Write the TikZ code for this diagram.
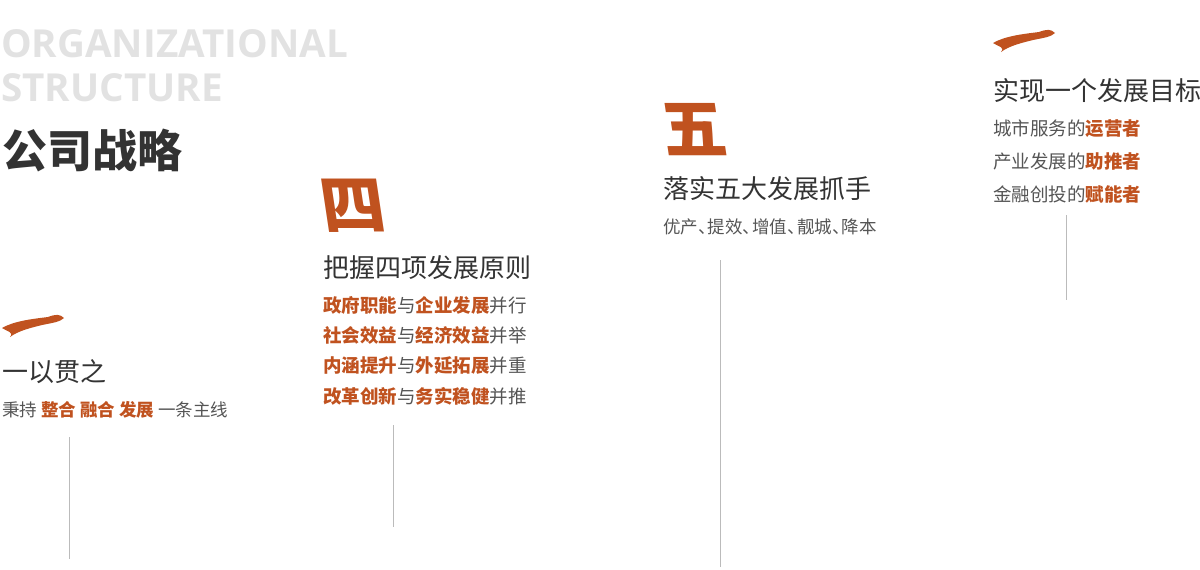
\documentclass[tikz,border=0pt]{standalone}
\usepackage{fontspec}
\setmainfont{Noto Sans CJK SC}
\newfontfamily\latinbold{Open Sans}
\definecolor{brick}{HTML}{C0521F}
\definecolor{txtdark}{HTML}{333333}
\definecolor{txtgray}{HTML}{555555}
\definecolor{ghost}{HTML}{E2E2E2}
\definecolor{vline}{HTML}{BBBBBB}
\tikzset{
  x=1pt,y=-1pt,
  ttl/.style={anchor=west,inner sep=0pt,text=txtdark,font=\fontsize{26}{28}\selectfont},
  sub/.style={anchor=west,inner sep=0pt,text=txtgray,font=\fontsize{17.5}{19}\selectfont},
  item/.style={anchor=west,inner sep=0pt,text=txtgray,font=\fontsize{18.5}{20}\selectfont},
  stem/.style={draw=vline,line width=0.8pt},
  brushnum/.style={inner sep=0pt,text=brick,font=\fontsize{64}{64}\selectfont\bfseries,xslant=-0.15}
}
\newcommand{\hl}[1]{{\color{brick}\bfseries #1}}
\newcommand{\dun}{、\kern-0.45em}
\newcommand{\brushone}[2]{%
  \fill[brick,shift={(#1,#2)}] (0,13) .. controls (12,6) and (30,4) .. (46,2)
    .. controls (54,-1) and (58,-1) .. (62,3) .. controls (58,7) and (50,8) .. (40,10)
    .. controls (28,13) and (16,16) .. (8,22) .. controls (12,17) and (6,17) .. (0,13) -- cycle;}
\begin{document}
\begin{tikzpicture}
\useasboundingbox (0,0) rectangle (1200,570);
\node[anchor=west,inner sep=0pt,text=ghost,font=\latinbold\fontsize{38.6}{40}\selectfont\bfseries] (h1) at (1,44) {ORGANIZATIONAL};
\node[anchor=west,inner sep=0pt,text=ghost,font=\latinbold\fontsize{38.6}{40}\selectfont\bfseries] (h2) at (1,88) {STRUCTURE};
\node[anchor=west,inner sep=0pt,text=txtdark,font=\fontsize{45}{47}\selectfont\bfseries] (h3) at (2,150) {公司战略};
% column 1
\brushone{2}{315}
\node[ttl] (t1) at (2,372) {一以贯之};
\node[sub] (s1) at (2,410) {秉持 \hl{整合 融合 发展} 一条主线};
\coordinate (a1) at (69,437); \coordinate (b1) at (69,559);
\draw[stem] (a1) -- (b1);
% column 2
\node[brushnum] (n4) at (353,206) {四};
\node[ttl] (t2) at (323,268) {把握四项发展原则};
\node[item] (i21) at (323,305) {\hl{政府职能}与\hl{企业发展}并行};
\node[item] (i22) at (323,335) {\hl{社会效益}与\hl{经济效益}并举};
\node[item] (i23) at (323,366) {\hl{内涵提升}与\hl{外延拓展}并重};
\node[item] (i24) at (323,396) {\hl{改革创新}与\hl{务实稳健}并推};
\coordinate (a2) at (393,425); \coordinate (b2) at (393,527);
\draw[stem] (a2) -- (b2);
% column 3
\node[brushnum] (n5) at (694,130) {五};
\node[ttl] (t3) at (663,189) {落实五大发展抓手};
\node[sub] (s3) at (663,227) {优产\dun 提效\dun 增值\dun 靓城\dun 降本};
\coordinate (a3) at (720,260); \coordinate (b3) at (720,567);
\draw[stem] (a3) -- (b3);
% column 4
\brushone{993}{30}
\node[ttl] (t4) at (993,91) {实现一个发展目标};
\node[item] (i41) at (993,129) {城市服务的\hl{运营者}};
\node[item] (i42) at (993,161) {产业发展的\hl{助推者}};
\node[item] (i43) at (993,194) {金融创投的\hl{赋能者}};
\coordinate (a4) at (1066,215); \coordinate (b4) at (1066,300);
\draw[stem] (a4) -- (b4);
\end{tikzpicture}
\end{document}
